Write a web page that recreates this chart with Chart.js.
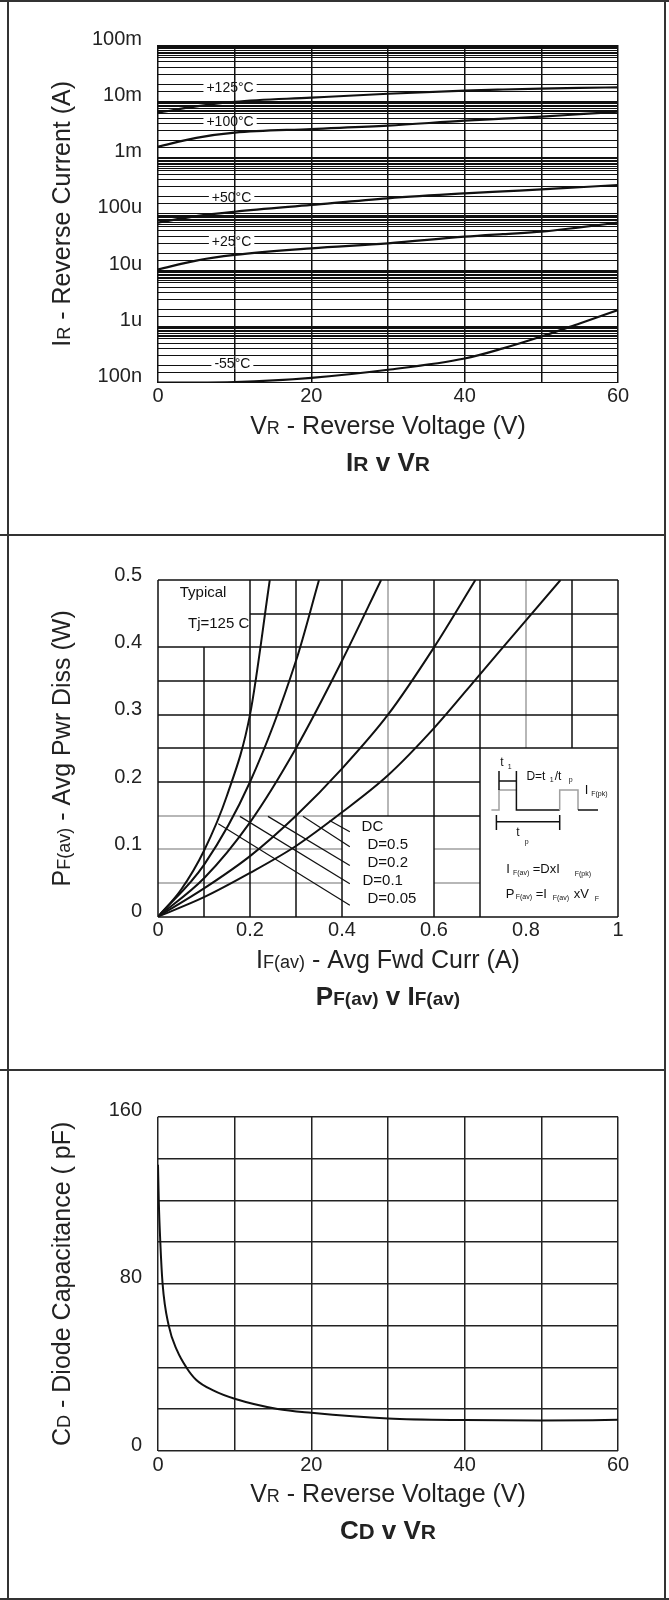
<!DOCTYPE html>
<html>
<head>
<meta charset="utf-8">
<script src="https://cdn.jsdelivr.net/npm/chart.js@4.4.1/dist/chart.umd.min.js"></script>
<style>
  html, body { margin: 0; padding: 0; background: #fff; }
  #page { position: relative; width: 669px; height: 1600px; overflow: hidden; }
  canvas { position: absolute; left: 0; }
  .rule { position: absolute; background: #333; }
</style>
</head>
<body>
<div id="page">
  <canvas id="irChart" width="669" height="535" style="top:0"></canvas>
  <canvas id="pfChart" width="669" height="535" style="top:535px"></canvas>
  <canvas id="cdChart" width="669" height="530" style="top:1070px"></canvas>
  <div class="rule" style="left:0;top:0;width:669px;height:2px"></div>
  <div class="rule" style="left:0;top:534px;width:666px;height:2px"></div>
  <div class="rule" style="left:0;top:1069px;width:666px;height:2px"></div>
  <div class="rule" style="left:0;top:1598px;width:669px;height:2px"></div>
  <div class="rule" style="left:7px;top:0;width:2px;height:1600px"></div>
  <div class="rule" style="left:664px;top:0;width:2px;height:1600px"></div>
</div>
<script>
const FONT = '"Liberation Sans", Arial, Helvetica, sans-serif';
const INK = '#111';
const GRAY = '#a0a0a0';

// IR v VR (log current vs reverse voltage)
const vrSteps = [0, 5, 10, 20, 30, 40, 45, 50, 55, 60];
const ir125 = [6.3e-3, 8.1e-3, 9.8e-3, 11.6e-3, 13.6e-3, 15.5e-3, 16.2e-3, 16.8e-3, 17.3e-3, 17.7e-3];
const ir100 = [1.56e-3, 2.24e-3, 2.77e-3, 3.21e-3, 3.69e-3, 4.52e-3, 4.9e-3, 5.32e-3, 5.89e-3, 6.53e-3];
const ir50 = [6.97e-5, 9.1e-5, 1.09e-4, 1.44e-4, 1.89e-4, 2.31e-4, 2.51e-4, 2.72e-4, 2.97e-4, 3.25e-4];
const ir25 = [1.03e-5, 1.48e-5, 1.86e-5, 2.44e-5, 2.99e-5, 3.93e-5, 4.37e-5, 4.82e-5, 5.75e-5, 6.97e-5];
const irM55 = [1.0e-7, 1.0e-7, 1.02e-7, 1.22e-7, 1.7e-7, 2.69e-7, 4.07e-7, 6.6e-7, 1.13e-6, 1.95e-6];
const irSeriesNames = ['+125°C', '+100°C', '+50°C', '+25°C', '-55°C'];
const irDecades = [1e-7, 1e-6, 1e-5, 1e-4, 1e-3, 1e-2, 1e-1];
const irDecadeLabels = ['100n', '1u', '10u', '100u', '1m', '10m', '100m'];
const irGridSteps = [1, 1.5, 2, 3, 4, 5, 6, 6.5, 7, 7.5, 8, 8.5, 9, 9.5];
const vrTickLabels = ['0', '20', '40', '60'];

// PF(av) v IF(av)
const pfDcX = [0, 0.1, 0.2, 0.3, 0.4, 0.5, 0.6, 0.7, 0.8, 0.875];
const pfDcY = [0, 0.029, 0.065, 0.105, 0.155, 0.21, 0.28, 0.36, 0.44, 0.5];
const pfD50X = [0, 0.1, 0.2, 0.3, 0.4, 0.5, 0.6, 0.69];
const pfD50Y = [0, 0.042, 0.09, 0.15, 0.22, 0.3, 0.4, 0.5];
const pfD20X = [0, 0.1, 0.2, 0.3, 0.4, 0.485];
const pfD20Y = [0, 0.057, 0.14, 0.25, 0.38, 0.5];
const pfD10X = [0, 0.1, 0.2, 0.3, 0.35];
const pfD10Y = [0, 0.077, 0.2, 0.38, 0.5];
const pfD05X = [0, 0.05, 0.1, 0.15, 0.2, 0.243];
const pfD05Y = [0, 0.04, 0.098, 0.18, 0.3, 0.5];
const pfSeriesNames = ['DC', 'D=0.5', 'D=0.2', 'D=0.1', 'D=0.05'];
// leader lines from each curve to its name: [x0, y0, x1, y1]
const pfLeaders = [
  [0.373, 0.143, 0.417, 0.126],
  [0.315, 0.149, 0.417, 0.104],
  [0.239, 0.149, 0.417, 0.076],
  [0.178, 0.149, 0.417, 0.049],
  [0.131, 0.138, 0.417, 0.017]
];
const pfTickLabelsX = ['0', '0.2', '0.4', '0.6', '0.8', '1'];
const pfTickLabelsY = ['0', '0.1', '0.2', '0.3', '0.4', '0.5'];

// CD v VR
const cdVolts = [0, 0.1, 0.3, 0.6, 1.4, 2.5, 3.7, 5, 7.2, 10, 15.6, 20, 30, 40, 50, 60];
const cdPf = [137, 120, 100, 80, 60, 48, 40, 34, 29, 25, 20.1, 18.3, 15.6, 14.8, 14.6, 14.9];
const cdTickLabelsY = ['0', '80', '160'];

Chart.defaults.font.family = FONT;
Chart.defaults.color = '#222';

function pts(xs, ys) {
  return xs.map((x, i) => ({ x: x, y: ys[i] }));
}

function curve(data, width) {
  return {
    data: data,
    borderColor: INK,
    borderWidth: width || 2,
    pointRadius: 0,
    fill: false,
    cubicInterpolationMode: 'monotone'
  };
}

function drawRuns(ctx, runs, cx, base, weight) {
  let w = 0;
  runs.forEach(r => {
    ctx.font = weight + r[1] + 'px ' + FONT;
    w += ctx.measureText(r[0]).width;
  });
  let x = cx - w / 2;
  runs.forEach(r => {
    ctx.font = weight + r[1] + 'px ' + FONT;
    ctx.fillText(r[0], x, base);
    x += ctx.measureText(r[0]).width;
  });
}

function titlesPlugin(yRuns, xRuns, titleRuns) {
  return {
    id: 'titles',
    afterDraw(chart) {
      const ctx = chart.ctx;
      const ca = chart.chartArea;
      const cx = (ca.left + ca.right) / 2;
      const cy = (ca.top + ca.bottom) / 2;
      ctx.save();
      ctx.fillStyle = '#222';
      ctx.textAlign = 'left';
      ctx.textBaseline = 'alphabetic';
      drawRuns(ctx, xRuns, cx, ca.bottom + 51, '');
      drawRuns(ctx, titleRuns, cx, ca.bottom + 88, 'bold ');
      ctx.translate(70, cy);
      ctx.rotate(-Math.PI / 2);
      drawRuns(ctx, yRuns, 0, 0, '');
      ctx.restore();
    }
  };
}

function baseOptions(bottomPad) {
  return {
    responsive: false,
    animation: false,
    devicePixelRatio: 1,
    layout: { padding: { left: 0, right: 51, top: 45, bottom: bottomPad } },
    plugins: { legend: { display: false }, tooltip: { enabled: false } }
  };
}

const tickFont = { size: 20 };

// ---------- chart 1 ----------
const irGridValues = [];
irDecades.slice(0, -1).forEach(d => irGridSteps.forEach(s => irGridValues.push(d * s)));
irGridValues.push(irDecades[irDecades.length - 1]);

const irTagSpots = [[9.4, 1.8e-2], [9.4, 4.47e-3], [9.6, 2.02e-4], [9.6, 3.33e-5], [9.7, 2.27e-7]];

const irTags = {
  id: 'irTags',
  beforeDatasetsDraw(chart) {
    const ctx = chart.ctx;
    const x = chart.scales.x, y = chart.scales.y;
    const gx = x.getPixelForValue(10);
    ctx.save();
    ctx.font = '14px ' + FONT;
    ctx.textAlign = 'center';
    ctx.textBaseline = 'middle';
    irTagSpots.forEach((spot, i) => {
      const px = x.getPixelForValue(spot[0]);
      const py = y.getPixelForValue(spot[1]);
      const w = ctx.measureText(irSeriesNames[i]).width + 6;
      ctx.fillStyle = '#fff';
      ctx.fillRect(px - w / 2, py - 6, w, 12);
      ctx.fillStyle = INK;
      ctx.fillRect(gx - 0.75, py - 6, 1.5, 12);
      ctx.fillText(irSeriesNames[i], px, py + 1);
    });
    ctx.restore();
  }
};

const irOpts = baseOptions(535 - 382.7 - 20);
irOpts.scales = {
  x: {
    type: 'linear', min: 0, max: 60,
    afterFit: s => { s.height = 20; },
    ticks: {
      stepSize: 10, padding: 2, font: tickFont, maxRotation: 0, autoSkip: false,
      callback: v => vrTickLabels.includes(String(v)) ? String(v) : ''
    },
    grid: { color: INK, lineWidth: 1.5, drawTicks: false },
    border: { display: false }
  },
  y: {
    type: 'logarithmic', min: 1e-7, max: 1e-1,
    afterBuildTicks: s => { s.ticks = irGridValues.map(v => ({ value: v })); },
    afterFit: s => { s.width = 158; },
    ticks: {
      autoSkip: false, padding: 16, labelOffset: -6, font: tickFont,
      callback: v => {
        const i = irDecades.findIndex(d => Math.abs(d - v) / d < 1e-6);
        return i >= 0 ? irDecadeLabels[i] : '';
      }
    },
    grid: { color: INK, lineWidth: 1, drawTicks: false },
    border: { display: false }
  }
};

new Chart(document.getElementById('irChart'), {
  type: 'line',
  data: {
    datasets: [
      curve(pts(vrSteps, ir125), 2.2),
      curve(pts(vrSteps, ir100), 2.2),
      curve(pts(vrSteps, ir50), 2.2),
      curve(pts(vrSteps, ir25), 2.2),
      curve(pts(vrSteps, irM55), 2.2)
    ]
  },
  options: irOpts,
  plugins: [irTags, titlesPlugin(
    [['I', 25], ['R', 18], [' - Reverse Current (A)', 25]],
    [['V', 25], ['R', 18], [' - Reverse Voltage (V)', 25]],
    [['I', 26], ['R', 21], [' v ', 26], ['V', 26], ['R', 21]]
  )]
});

// ---------- chart 2 ----------
const pfGrid = {
  id: 'pfGrid',
  beforeDatasetsDraw(chart) {
    const ctx = chart.ctx;
    const x = chart.scales.x, y = chart.scales.y;
    const black = [
      [0, 0, 0, 0.5], [0.1, 0, 0.1, 0.4], [0.2, 0, 0.2, 0.5], [0.3, 0, 0.3, 0.5],
      [0.4, 0, 0.4, 0.5], [0.6, 0, 0.6, 0.5], [0.7, 0, 0.7, 0.5], [0.9, 0.25, 0.9, 0.5],
      [1, 0, 1, 0.5],
      [0, 0.5, 1, 0.5], [0.2, 0.45, 1, 0.45], [0, 0.4, 1, 0.4], [0, 0.35, 1, 0.35],
      [0, 0.3, 1, 0.3], [0, 0.25, 1, 0.25], [0, 0.2, 0.7, 0.2], [0.4, 0.15, 0.7, 0.15],
      [0, 0, 1, 0]
    ];
    const gray = [
      [0.5, 0.15, 0.5, 0.5], [0.8, 0.25, 0.8, 0.5],
      [0, 0.15, 0.4, 0.15], [0, 0.1, 0.4, 0.1], [0.6, 0.1, 0.7, 0.1],
      [0, 0.05, 0.4, 0.05], [0.6, 0.05, 0.7, 0.05]
    ];
    ctx.save();
    ctx.lineWidth = 1.5;
    [[gray, GRAY], [black, INK]].forEach(pair => {
      ctx.strokeStyle = pair[1];
      ctx.beginPath();
      pair[0].forEach(s => {
        ctx.moveTo(Math.round(x.getPixelForValue(s[0])), Math.round(y.getPixelForValue(s[1])));
        ctx.lineTo(Math.round(x.getPixelForValue(s[2])), Math.round(y.getPixelForValue(s[3])));
      });
      ctx.stroke();
    });
    ctx.restore();
  },
  afterDatasetsDraw(chart) {
    const ctx = chart.ctx;
    const ca = chart.chartArea;
    const x = chart.scales.x, y = chart.scales.y;
    const P = (px, py) => [ca.left + px - 158.3, ca.top + py - 580];
    ctx.save();
    ctx.fillStyle = INK;
    ctx.textBaseline = 'middle';
    ctx.textAlign = 'left';
    ctx.font = '15px ' + FONT;
    let p = P(180, 593); ctx.fillText('Typical', p[0], p[1]);
    p = P(188.3, 624); ctx.fillText('Tj=125 C', p[0], p[1]);

    const namePos = [[0.4425, 0.1337], [0.4555, 0.1065], [0.4555, 0.0802], [0.4446, 0.0535], [0.4555, 0.0258]];
    namePos.forEach((q, i) => {
      ctx.fillText(pfSeriesNames[i], x.getPixelForValue(q[0]), y.getPixelForValue(q[1]));
    });

    // pulse diagram inset
    const seg = (list, color) => {
      ctx.strokeStyle = color;
      ctx.beginPath();
      list.forEach((pt, i) => {
        const q = P(pt[0], pt[1]);
        if (i) ctx.lineTo(q[0], q[1]); else ctx.moveTo(q[0], q[1]);
      });
      ctx.stroke();
    };
    ctx.lineWidth = 1.5;
    seg([[491.7, 810], [499.3, 810], [499.3, 790], [516.7, 790]], GRAY);
    seg([[516.7, 790], [516.7, 810], [560, 810]], INK);
    seg([[560, 810], [560, 790], [578.3, 790], [578.3, 810]], GRAY);
    seg([[578.3, 810], [598.3, 810]], INK);
    seg([[499.3, 781], [516.7, 781]], INK);
    seg([[499.3, 771], [499.3, 790]], INK);
    seg([[516.7, 771], [516.7, 790]], INK);
    seg([[496.7, 821.7], [560, 821.7]], INK);
    seg([[496.7, 815], [496.7, 830]], INK);
    seg([[560, 815], [560, 830]], INK);

    ctx.textBaseline = 'alphabetic';
    const pieces = [
      ['t', 500.5, 766, 12], ['1', 508, 769, 7],
      ['D=t', 526.7, 779.5, 12], ['1', 550, 782, 7], ['/t', 555, 779.5, 12], ['p', 569, 782, 7],
      ['I', 585, 793.5, 13], ['F(pk)', 591.5, 796, 7],
      ['t', 516.5, 836, 12], ['p', 525, 844, 7],
      ['I', 506.5, 872.5, 13], ['F(av)', 513.3, 875, 7], ['=DxI', 533, 872.5, 13], ['F(pk)', 575, 876, 7],
      ['P', 506, 897.5, 13], ['F(av)', 516, 899, 7], ['=I', 536, 897.5, 13], ['F(av)', 553, 900, 7],
      ['xV', 574, 897.5, 13], ['F', 595, 901, 7]
    ];
    pieces.forEach(t => {
      ctx.font = t[3] + 'px ' + FONT;
      const q = P(t[1], t[2]);
      ctx.fillText(t[0], q[0], q[1]);
    });
    ctx.restore();
  }
};

const pfOpts = baseOptions(535 - 381.7 - 20);
pfOpts.scales = {
  x: {
    type: 'linear', min: 0, max: 1,
    afterFit: s => { s.height = 20; },
    ticks: {
      stepSize: 0.2, padding: 2, font: tickFont, maxRotation: 0, autoSkip: false,
      callback: v => pfTickLabelsX[Math.round(v * 5)]
    },
    grid: { display: false, drawTicks: false },
    border: { display: false }
  },
  y: {
    type: 'linear', min: 0, max: 0.5,
    afterFit: s => { s.width = 158; },
    ticks: {
      stepSize: 0.1, padding: 16, labelOffset: -5, font: tickFont,
      callback: v => pfTickLabelsY[Math.round(v * 10)]
    },
    grid: { display: false, drawTicks: false },
    border: { display: false }
  }
};

const pfDatasets = [
  curve(pts(pfDcX, pfDcY)),
  curve(pts(pfD50X, pfD50Y)),
  curve(pts(pfD20X, pfD20Y)),
  curve(pts(pfD10X, pfD10Y)),
  curve(pts(pfD05X, pfD05Y))
];
pfLeaders.forEach(l => {
  pfDatasets.push({
    data: [{ x: l[0], y: l[1] }, { x: l[2], y: l[3] }],
    borderColor: INK, borderWidth: 1.2, pointRadius: 0, fill: false, tension: 0
  });
});

new Chart(document.getElementById('pfChart'), {
  type: 'line',
  data: { datasets: pfDatasets },
  options: pfOpts,
  plugins: [pfGrid, titlesPlugin(
    [['P', 25], ['F(av)', 18], [' - Avg Pwr Diss (W)', 25]],
    [['I', 25], ['F(av)', 18], [' - Avg Fwd Curr (A)', 25]],
    [['P', 26], ['F(av)', 19], [' v ', 26], ['I', 26], ['F(av)', 19]]
  )]
});

// ---------- chart 3 ----------
const cdOpts = baseOptions(530 - 381 - 20);
cdOpts.layout.padding.top = 46.7;
cdOpts.scales = {
  x: {
    type: 'linear', min: 0, max: 60,
    afterFit: s => { s.height = 20; },
    ticks: {
      stepSize: 10, padding: 2, font: tickFont, maxRotation: 0, autoSkip: false,
      callback: v => vrTickLabels.includes(String(v)) ? String(v) : ''
    },
    grid: { color: '#222', lineWidth: 1.5, drawTicks: false },
    border: { display: false }
  },
  y: {
    type: 'linear', min: 0, max: 160,
    afterFit: s => { s.width = 158; },
    ticks: {
      stepSize: 20, padding: 16, labelOffset: -6, font: tickFont, autoSkip: false,
      callback: v => cdTickLabelsY.includes(String(v)) ? String(v) : ''
    },
    grid: { color: '#222', lineWidth: 1.5, drawTicks: false },
    border: { display: false }
  }
};

new Chart(document.getElementById('cdChart'), {
  type: 'line',
  data: { datasets: [curve(pts(cdVolts, cdPf))] },
  options: cdOpts,
  plugins: [titlesPlugin(
    [['C', 25], ['D', 18], [' - Diode Capacitance ( pF)', 25]],
    [['V', 25], ['R', 18], [' - Reverse Voltage (V)', 25]],
    [['C', 26], ['D', 22], [' v ', 26], ['V', 26], ['R', 21]]
  )]
});
</script>
</body>
</html>
